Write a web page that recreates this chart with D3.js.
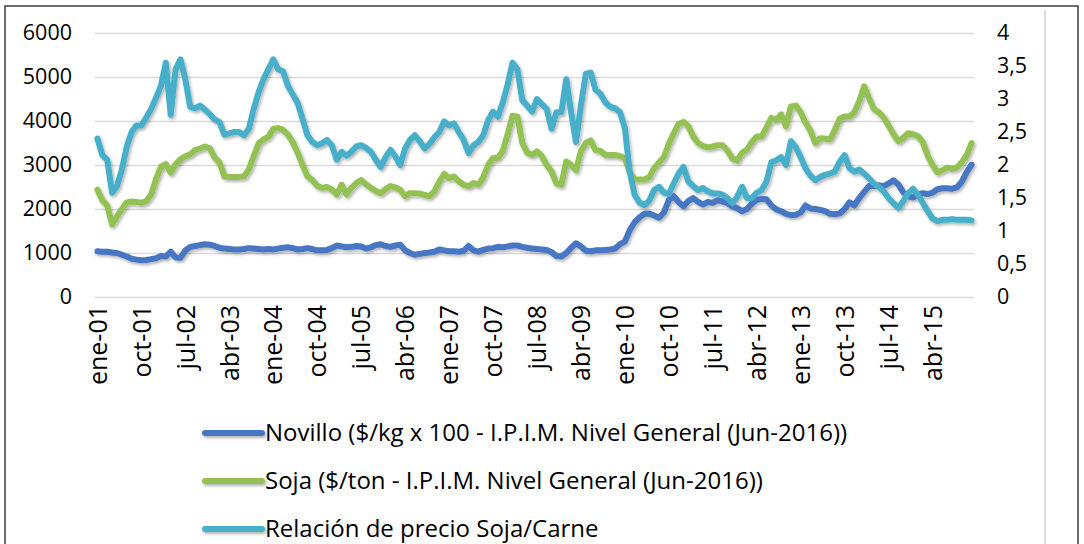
<!DOCTYPE html>
<html>
<head>
<meta charset="utf-8">
<script src="https://cdn.jsdelivr.net/npm/d3@7"></script>
<style>
  body { margin: 0; background: #fff; }
  svg text { font-family: "Open Sans", sans-serif; fill: #000; }
</style>
</head>
<body>
<svg id="chart" width="1084" height="544"></svg>
<script>
// categorias mensuales ene-01 .. dic-15
const meses = ['ene', 'feb', 'mar', 'abr', 'may', 'jun', 'jul', 'ago', 'sep', 'oct', 'nov', 'dic']
const anios = ['01', '02', '03', '04', '05', '06', '07', '08', '09', '10', '11', '12', '13', '14', '15']

// Novillo ($/kg x 100 - IPIM), eje izquierdo
const novillo = [
  1040, 1030, 1030, 1010, 1000, 960, 920, 870, 850, 835, 840, 860,
  880, 930, 920, 1030, 900, 890, 1060, 1140, 1160, 1180, 1200, 1190,
  1160, 1120, 1100, 1090, 1080, 1080, 1090, 1110, 1100, 1090, 1080, 1090,
  1080, 1100, 1120, 1130, 1110, 1080, 1090, 1110, 1090, 1060, 1060, 1070,
  1110, 1170, 1150, 1130, 1140, 1160, 1150, 1100, 1130, 1180, 1200, 1160,
  1140, 1170, 1190, 1060, 1000, 960, 980, 1000, 1010, 1030, 1080, 1060,
  1040, 1040, 1030, 1050, 1160, 1060, 1030, 1070, 1100, 1110, 1140, 1130,
  1150, 1170, 1170, 1140, 1120, 1100, 1090, 1080, 1070, 1020, 930, 920,
  1000, 1120, 1220, 1150, 1050, 1040, 1060, 1060, 1070, 1080, 1100, 1200,
  1260, 1520, 1700, 1810, 1890, 1900, 1850, 1800, 1920, 2200, 2290, 2160,
  2060, 2180, 2250, 2160, 2100, 2160, 2140, 2200, 2170, 2130, 2060, 2020,
  1950, 2000, 2120, 2210, 2230, 2220, 2080, 1990, 1950, 1890, 1860, 1870,
  1920, 2080, 2010, 2000, 1980, 1950, 1890, 1880, 1900, 2000, 2150, 2080,
  2250, 2390, 2520, 2520, 2540, 2520, 2580, 2650, 2560, 2380, 2290, 2260,
  2320, 2360, 2340, 2370, 2450, 2470, 2470, 2460, 2490, 2620, 2840, 3010
]

// Soja ($/ton - IPIM), eje izquierdo
const soja = [
  2440, 2200, 2080, 1650, 1830, 2000, 2150, 2170, 2160, 2140, 2180, 2330,
  2680, 2960, 3020, 2830, 3020, 3130, 3200, 3240, 3340, 3370, 3420, 3380,
  3170, 3060, 2740, 2730, 2730, 2730, 2740, 2900, 3200, 3490, 3580, 3640,
  3820, 3840, 3800, 3690, 3520, 3280, 3000, 2740, 2660, 2530, 2480, 2500,
  2440, 2330, 2550, 2330, 2480, 2590, 2660, 2560, 2480, 2410, 2360, 2450,
  2520, 2490, 2440, 2290, 2360, 2360, 2350, 2320, 2290, 2400, 2620, 2800,
  2700, 2740, 2630, 2550, 2520, 2590, 2550, 2720, 3000, 3160, 3160, 3320,
  3700, 4120, 4100, 3500, 3280, 3230, 3310, 3200, 3000, 2850, 2580, 2550,
  3080, 3000, 2880, 3320, 3500, 3560, 3340, 3320, 3230, 3230, 3230, 3200,
  3160, 2840, 2670, 2670, 2670, 2720, 2930, 3060, 3180, 3480, 3720, 3930,
  3980, 3880, 3650, 3500, 3430, 3400, 3420, 3450, 3450, 3330, 3150, 3100,
  3280, 3350, 3520, 3650, 3650, 3850, 4070, 4020, 4150, 3880, 4330, 4350,
  4200, 3960, 3780, 3500, 3610, 3600, 3580, 3800, 4050, 4100, 4100, 4200,
  4450, 4790, 4520, 4270, 4200, 4080, 3900, 3700, 3540, 3620, 3720, 3700,
  3660, 3520, 3220, 3000, 2830, 2880, 2940, 2910, 2940, 3060, 3220, 3500
]

// Relacion de precio Soja/Carne, eje derecho
const relacion = [
  2.40, 2.15, 2.08, 1.58, 1.68, 1.93, 2.28, 2.50, 2.60, 2.60, 2.72, 2.85,
  3.02, 3.20, 3.55, 2.76, 3.45, 3.60, 3.30, 2.88, 2.86, 2.90, 2.84, 2.77,
  2.69, 2.65, 2.46, 2.48, 2.50, 2.50, 2.45, 2.55, 2.85, 3.10, 3.30, 3.45,
  3.60, 3.45, 3.42, 3.20, 3.07, 2.94, 2.70, 2.45, 2.35, 2.30, 2.33, 2.38,
  2.30, 2.08, 2.20, 2.14, 2.20, 2.28, 2.30, 2.26, 2.20, 2.08, 1.97, 2.12,
  2.23, 2.13, 2.00, 2.25, 2.38, 2.45, 2.36, 2.25, 2.32, 2.42, 2.50, 2.66,
  2.60, 2.63, 2.50, 2.38, 2.18, 2.30, 2.35, 2.45, 2.68, 2.81, 2.73, 2.95,
  3.22, 3.55, 3.45, 2.98, 2.90, 2.81, 3.00, 2.92, 2.85, 2.55, 2.80, 2.80,
  3.30, 2.80, 2.35, 2.90, 3.38, 3.40, 3.14, 3.08, 2.95, 2.88, 2.86, 2.80,
  2.56, 1.90, 1.55, 1.43, 1.39, 1.46, 1.62, 1.67, 1.58, 1.56, 1.72, 1.87,
  1.97, 1.75, 1.68, 1.62, 1.65, 1.60, 1.57, 1.57, 1.55, 1.50, 1.42, 1.52,
  1.67, 1.50, 1.50, 1.58, 1.62, 1.75, 2.04, 2.07, 2.12, 2.00, 2.36, 2.27,
  2.12, 1.95, 1.84, 1.77, 1.82, 1.85, 1.87, 1.90, 2.05, 2.15, 1.95, 1.90,
  1.93, 1.87, 1.80, 1.72, 1.67, 1.60, 1.50, 1.42, 1.35, 1.45, 1.57, 1.64,
  1.55, 1.43, 1.30, 1.19, 1.15, 1.17, 1.17, 1.18, 1.17, 1.17, 1.17, 1.16
]

const ticksIzq = [0, 1000, 2000, 3000, 4000, 5000, 6000]
const ticksDer = [0, 0.5, 1, 1.5, 2, 2.5, 3, 3.5, 4]
const cadaEtiqueta = 9

const series = [
  { nombre: 'Novillo ($/kg x 100 - I.P.I.M. Nivel General (Jun-2016))', valores: novillo, eje: 'izq', color: '#4676c2' },
  { nombre: 'Soja ($/ton - I.P.I.M. Nivel General (Jun-2016))', valores: soja, eje: 'izq', color: '#93c152' },
  { nombre: 'Relación de precio Soja/Carne', valores: relacion, eje: 'der', color: '#47afc9' }
]

const categorias = []
anios.forEach(a => meses.forEach(m => categorias.push(m + '-' + a)))

const svg = d3.select('#chart')
const x0 = 95
const x1 = 974
const y0 = 297
const y1 = 33

// marco
svg.append('rect')
  .attr('x', 5).attr('y', 6)
  .attr('width', 1073).attr('height', 600)
  .attr('fill', 'none')
  .attr('stroke', '#3c3c3c')
  .attr('stroke-width', 1.5)
svg.append('line')
  .attr('x1', 1045).attr('x2', 1045)
  .attr('y1', 10).attr('y2', 544)
  .attr('stroke', '#dcdcdc')
  .attr('stroke-width', 2)

const defs = svg.append('defs')
defs.append('filter')
  .attr('id', 'sombra')
  .attr('filterUnits', 'userSpaceOnUse')
  .attr('x', 0).attr('y', 0)
  .attr('width', 1084).attr('height', 544)
  .append('feDropShadow')
  .attr('dx', 1.5).attr('dy', 2)
  .attr('stdDeviation', 1.5)
  .attr('flood-color', '#000')
  .attr('flood-opacity', 0.3)

const x = d3.scalePoint().domain(categorias).range([x0, x1]).padding(0.5)
const yIzq = d3.scaleLinear().domain([0, 6000]).range([y0, y1])
const yDer = d3.scaleLinear().domain([0, 4]).range([y0, y1])

const fmtEs = d3.formatLocale({ decimal: ',', thousands: '.', grouping: [3], currency: ['$', ''] })

// eje izquierdo + grilla
const gIzq = svg.append('g')
  .attr('transform', `translate(${x0},0)`)
  .call(d3.axisLeft(yIzq).tickValues(ticksIzq).tickSize(-(x1 - x0)).tickPadding(23).tickFormat(d3.format('d')))
gIzq.select('.domain').remove()
gIzq.selectAll('.tick line').attr('stroke', '#d9d9d9').attr('stroke-width', 1.5)
gIzq.selectAll('.tick text').style('font-size', '21.5px').attr('fill', '#000')

// eje derecho
const gDer = svg.append('g')
  .attr('transform', `translate(${x1},0)`)
  .call(d3.axisRight(yDer).tickValues(ticksDer).tickSize(0).tickPadding(23).tickFormat(fmtEs.format('~g')))
gDer.select('.domain').remove()
gDer.selectAll('.tick text').style('font-size', '21.5px').attr('fill', '#000')

// eje x
const gX = svg.append('g')
  .attr('transform', `translate(0,${y0})`)
  .call(d3.axisBottom(x).tickValues(categorias.filter((d, i) => i % cadaEtiqueta === 0)).tickSize(0))
gX.select('.domain').remove()
gX.selectAll('.tick text')
  .style('font-size', '25px')
  .attr('fill', '#000')
  .attr('text-anchor', 'end')
  .attr('transform', 'rotate(-90)')
  .attr('x', -8)
  .attr('y', 0)
  .attr('dy', '0.35em')

// lineas
const gLineas = svg.append('g').attr('filter', 'url(#sombra)')
series.forEach(s => {
  const y = s.eje === 'izq' ? yIzq : yDer
  const linea = d3.line()
    .x((d, i) => x(categorias[i]))
    .y(d => y(d))
  gLineas.append('path')
    .datum(s.valores)
    .attr('d', linea)
    .attr('fill', 'none')
    .attr('stroke', s.color)
    .attr('stroke-width', 6)
    .attr('stroke-linejoin', 'round')
    .attr('stroke-linecap', 'round')
})

// leyenda
const gLey = svg.append('g')
series.forEach((s, i) => {
  const yy = 433 + i * 48
  gLey.append('line')
    .attr('x1', 205).attr('x2', 262)
    .attr('y1', yy).attr('y2', yy)
    .attr('stroke', s.color)
    .attr('stroke-width', 6)
    .attr('stroke-linecap', 'round')
    .attr('filter', 'url(#sombra)')
  gLey.append('text')
    .attr('x', 265).attr('y', yy)
    .attr('dy', '0.35em')
    .style('font-size', '24px')
    .text(s.nombre)
})
</script>
</body>
</html>
